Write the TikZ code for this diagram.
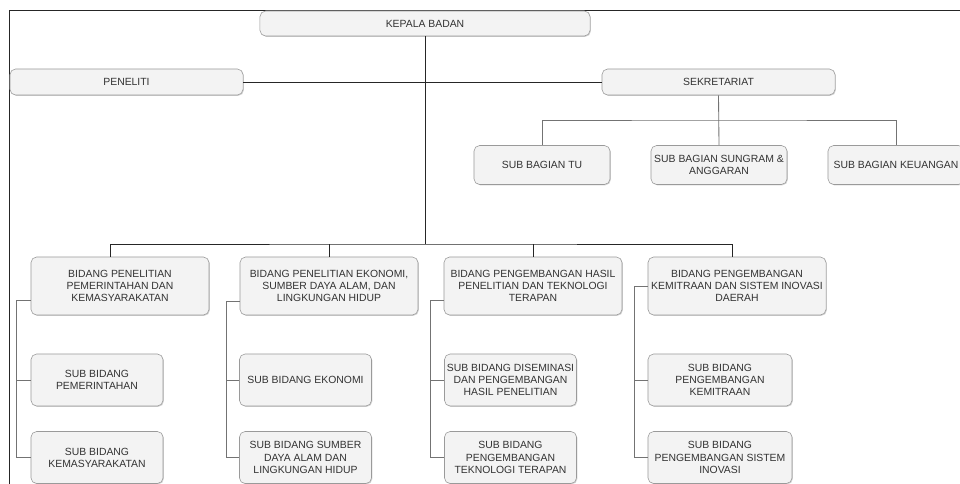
\documentclass[tikz,border=0pt]{standalone}
\usepackage{fontspec}
\setmainfont{Liberation Sans}
\usepackage{tikz}
\usetikzlibrary{positioning,shadows}

\definecolor{boxfill}{HTML}{F3F3F3}
\definecolor{boxline}{HTML}{9A9A9A}
\definecolor{txt}{HTML}{333333}

\tikzset{
	unit/.style={draw=boxline, fill=boxfill, rounded corners=4pt, align=center, text=txt,
		font=\fontsize{7.4}{8.6}\selectfont, inner sep=1pt,
		drop shadow={shadow xshift=0.6pt, shadow yshift=-0.6pt, opacity=0.35}},
	top/.style={unit, minimum width=5.825cm, minimum height=0.65cm},
	bagian/.style={unit, minimum width=3.4cm, minimum height=0.975cm},
	bidang/.style={unit, minimum width=4.45cm, minimum height=1.45cm},
	subbid/.style={unit, minimum width=3.3cm, minimum height=1.3cm},
	mainline/.style={draw=black!85, line width=0.6pt},
	subline/.style={draw=black!55, line width=0.6pt}
}

\begin{document}
\begin{tikzpicture}[x=0.025cm, y=-0.025cm]
	\clip (0,0) rectangle (960,484);
	\fill[white] (0,0) rectangle (960,484);
	\draw[black!85, line width=0.6pt] (9,500) -- (9,10) -- (970,10);

	\node [unit, minimum width=8.25cm, minimum height=0.625cm] (kepala) at (425,23.5) {KEPALA BADAN};
	\node [top] (peneliti) at (126.5,82) {PENELITI};
	\node [top] (sekretariat) at (718.5,82) {SEKRETARIAT};

	\node [bagian] (tu) at (542,165) {SUB BAGIAN TU};
	\node [bagian] (sungram) at (719,165) {SUB BAGIAN SUNGRAM \&\\ANGGARAN};
	\node [bagian] (keuangan) at (896,165) {SUB BAGIAN KEUANGAN};

	\node [bidang] (bid1) at (120,286) {BIDANG PENELITIAN\\PEMERINTAHAN DAN\\KEMASYARAKATAN};
	\node [bidang] (bid2) at (329,286) {BIDANG PENELITIAN EKONOMI,\\SUMBER DAYA ALAM, DAN\\LINGKUNGAN HIDUP};
	\node [bidang] (bid3) at (533,286) {BIDANG PENGEMBANGAN HASIL\\PENELITIAN DAN TEKNOLOGI\\TERAPAN};
	\node [bidang] (bid4) at (737,286) {BIDANG PENGEMBANGAN\\KEMITRAAN DAN SISTEM INOVASI\\DAERAH};

	\node [subbid] (sub11) at (97,380) {SUB BIDANG\\PEMERINTAHAN};
	\node [subbid] (sub12) at (97,457.5) {SUB BIDANG\\KEMASYARAKATAN};
	\node [subbid] (sub21) at (305.5,380) {SUB BIDANG EKONOMI};
	\node [subbid] (sub22) at (305.5,457.5) {SUB BIDANG SUMBER\\DAYA ALAM DAN\\LINGKUNGAN HIDUP};
	\node [subbid] (sub31) at (510.5,380) {SUB BIDANG DISEMINASI\\DAN PENGEMBANGAN\\HASIL PENELITIAN};
	\node [subbid] (sub32) at (510.5,457.5) {SUB BIDANG\\PENGEMBANGAN\\TEKNOLOGI TERAPAN};
	\node [subbid, minimum width=3.6cm] (sub41) at (720,380) {SUB BIDANG\\PENGEMBANGAN\\KEMITRAAN};
	\node [subbid, minimum width=3.6cm] (sub42) at (720,457.5) {SUB BIDANG\\PENGEMBANGAN SISTEM\\INOVASI};

	% kepala badan
	\coordinate (hub) at (425,244);
	\path [mainline] (kepala.south) -- (hub);
	\path [mainline] (peneliti) -- (sekretariat);
	\path [mainline] ([xshift=-0.25cm]bid1.north) |- (hub) -| ([xshift=-0.125cm]bid4.north);
	\path [mainline] (bid2.north) -- (bid2.north |- hub);
	\path [mainline] (bid3.north) -- (bid3.north |- hub);

	% sekretariat
	\coordinate (sekhub) at (719,120);
	\path [subline] (sekretariat.south) -- (sungram.north);
	\path [subline] (tu.north) |- (sekhub) -| (keuangan.north);

	% bidang
	\path [subline] ([yshift=-0.35cm]bid1.west) -- ++(-0.35cm,0) |- (sub12.west);
	\path [subline] (sub11.west) -- ++(-0.35cm,0);
	\path [subline] ([yshift=-0.375cm]bid2.west) -- ++(-0.325cm,0) |- (sub22.west);
	\path [subline] (sub21.west) -- ++(-0.325cm,0);
	\path [subline] ([yshift=-0.35cm]bid3.west) -- ++(-0.325cm,0) |- (sub32.west);
	\path [subline] (sub31.west) -- ++(-0.325cm,0);
	\path [subline] (bid4.west) -- ++(-0.325cm,0) |- (sub42.west);
	\path [subline] (sub41.west) -- ++(-0.325cm,0);
\end{tikzpicture}
\end{document}
